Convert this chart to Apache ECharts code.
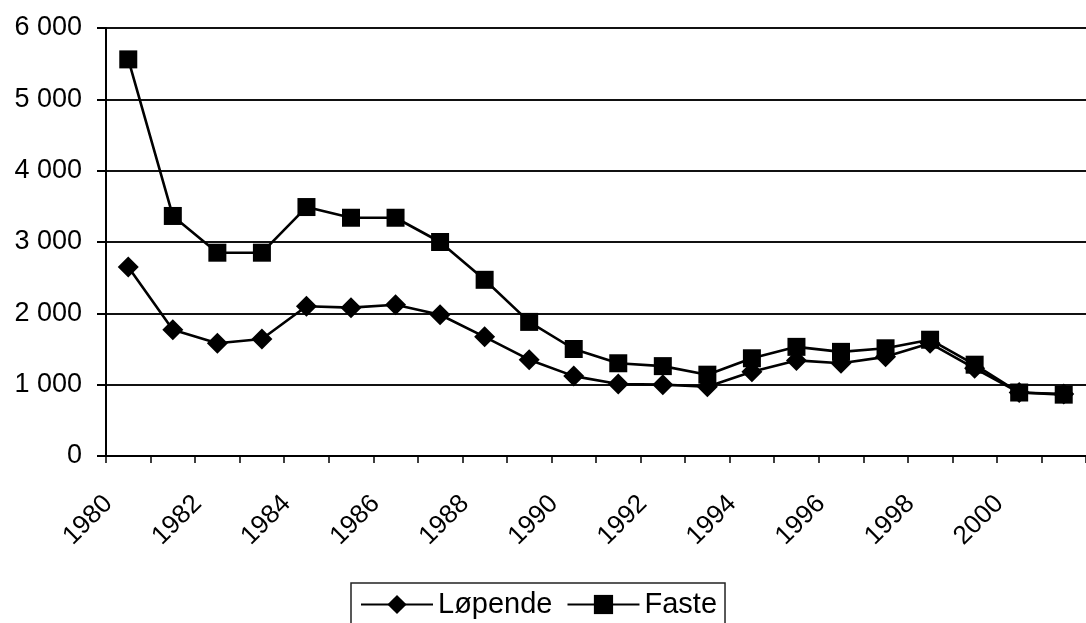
<!DOCTYPE html>
<html>
<head>
<meta charset="utf-8">
<script src="https://cdn.jsdelivr.net/npm/echarts@6/dist/echarts.min.js"></script>
<style>
html,body{margin:0;padding:0;background:#fff;}
#chart{width:1086px;height:623px;}
</style>
</head>
<body>
<div id="chart"></div>
<script>
const years = ['1980','1981','1982','1983','1984','1985','1986','1987','1988','1989','1990','1991','1992','1993','1994','1995','1996','1997','1998','1999','2000','2001'];
const lopende = [2650,1770,1580,1640,2100,2080,2120,1980,1670,1350,1120,1010,1000,970,1180,1340,1300,1390,1580,1230,890,870];
const faste = [5560,3365,2850,2850,3490,3340,3340,3000,2470,1880,1500,1300,1260,1140,1370,1530,1460,1510,1630,1280,890,860];
const yTicks = [0,1000,2000,3000,4000,5000,6000];

const FONT = '"Liberation Sans", Arial, sans-serif';
const chart = echarts.init(document.getElementById('chart'), null, {renderer:'canvas'});
function fmt(v){
  const s = String(v);
  return s.length > 3 ? s.slice(0, s.length-3) + ' ' + s.slice(-3) : s;
}
chart.setOption({
  backgroundColor: '#fff',
  animation: false,
  grid: {left: 106, top: 28, width: 988, height: 428, containLabel: false},
  xAxis: {
    type: 'category',
    data: years,
    boundaryGap: true,
    axisLine: {lineStyle: {color: '#000', width: 2}},
    axisTick: {show: true, length: 7, lineStyle: {color: '#000', width: 1.5}, interval: 0},
    axisLabel: {interval: 1, rotate: 45, margin: 24, padding: [0, 28, 0, 0], fontSize: 26, fontFamily: FONT, color: '#000'},
    splitLine: {show: false}
  },
  yAxis: {
    type: 'value',
    min: yTicks[0],
    max: yTicks[yTicks.length-1],
    interval: yTicks[1]-yTicks[0],
    axisLine: {show: true, lineStyle: {color: '#000', width: 2}},
    axisTick: {show: true, length: 9, lineStyle: {color: '#000', width: 2}},
    axisLabel: {margin: 24, fontSize: 27, fontFamily: FONT, color: '#000', formatter: fmt},
    splitLine: {show: true, lineStyle: {color: '#111', width: 2}}
  },
  legend: {
    left: 351, top: 583,
    padding: [7, 8, 20, 9],
    borderColor: '#222', borderWidth: 1.5,
    itemGap: 14, itemWidth: 72, itemHeight: 24,
    textStyle: {fontSize: 29, fontFamily: FONT, color: '#000'},
    data: ['Løpende', 'Faste']
  },
  series: [
    {
      name: 'Løpende', type: 'line', data: lopende,
      symbol: 'diamond', symbolSize: 21, showAllSymbol: true,
      lineStyle: {color: '#000', width: 2.6},
      itemStyle: {color: '#000'}
    },
    {
      name: 'Faste', type: 'line', data: faste,
      symbol: 'rect', symbolSize: 18, showAllSymbol: true,
      lineStyle: {color: '#000', width: 2.6},
      itemStyle: {color: '#000'}
    }
  ]
});
</script>
</body>
</html>
